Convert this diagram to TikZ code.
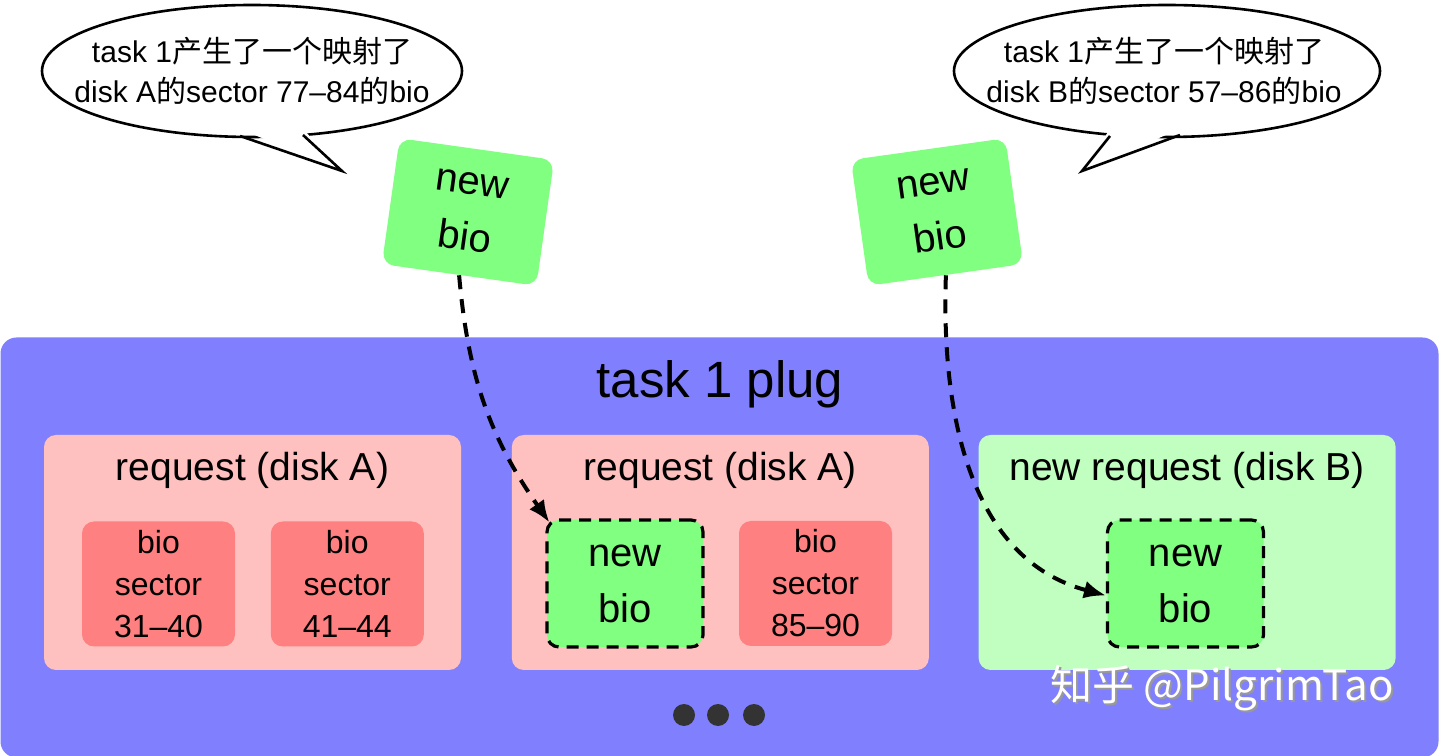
\documentclass[tikz,border=0pt]{standalone}
\usepackage{fontspec}
\setmainfont{Liberation Sans}
\newfontfamily\cjk{Noto Sans CJK SC}
\usepackage{tikz}
\usetikzlibrary{shapes,arrows.meta,positioning,calc}
\definecolor{plugblue}{HTML}{8080FF}
\definecolor{reqpink}{HTML}{FFC0C0}
\definecolor{reqgreen}{HTML}{C0FFC0}
\definecolor{biored}{HTML}{FF8080}
\definecolor{biogreen}{HTML}{80FF80}
\definecolor{dotgray}{HTML}{333333}
\tikzstyle{plug} = [rectangle, fill=plugblue, rounded corners=8pt,
    minimum width=719pt, minimum height=210pt, inner sep=0pt]
\tikzstyle{request} = [rectangle, fill=reqpink, rounded corners=6pt,
    minimum width=208.5pt, minimum height=117.5pt, inner sep=0pt]
\tikzstyle{reqtitle} = [font=\fontsize{19.5}{23}\selectfont]
\tikzstyle{bio} = [rectangle, fill=biored, rounded corners=6pt, minimum width=76.5pt,
    minimum height=62.5pt, inner sep=0pt, align=center, font=\fontsize{16}{21}\selectfont]
\tikzstyle{newbio} = [rectangle, fill=biogreen, rounded corners=6pt, minimum width=78pt,
    minimum height=63.5pt, inner sep=0pt, align=center, font=\fontsize{20}{28}\selectfont]
\tikzstyle{pending} = [newbio, draw, line width=1.6pt, dash pattern=on 6pt off 4pt]
\tikzstyle{bubble} = [draw, fill=white, line width=1.3pt]
\tikzstyle{saying} = [align=center, inner sep=0pt, font=\fontsize{15}{20}\selectfont]
\tikzstyle{connector} = [-{Latex[length=11pt,width=9pt]}, line width=2pt, dash pattern=on 7pt off 5pt]
\tikzstyle{dot} = [circle, fill=dotgray, minimum size=11pt, inner sep=0pt]
\tikzstyle{watermark} = [font=\cjk\fontsize{21}{25}\selectfont]

\begin{document}
\begin{tikzpicture}[x=0.5pt, y=0.5pt]
    \useasboundingbox [fill=white] (0,0) rectangle (1440,755);

    % speech bubbles
    \draw [bubble] (252,684) ellipse [x radius=210, y radius=66];
    \fill [white] (240,626) -- (342,584) -- (303,626) -- cycle;
    \draw [line width=1.3pt] (240,619) -- (342,584) -- (303,620);
    \node (sayA) [saying] at (252,684)
        {task 1{\cjk 产生了一个映射了}\\disk A{\cjk 的}sector 77–84{\cjk 的}bio};
    \draw [bubble] (1167,684) ellipse [x radius=213, y radius=66];
    \fill [white] (1110,626) -- (1082,584) -- (1180,626) -- cycle;
    \draw [line width=1.3pt] (1110,619) -- (1082,584) -- (1180,620);
    \node (sayB) [saying] at (1164,684)
        {task 1{\cjk 产生了一个映射了}\\disk B{\cjk 的}sector 57–86{\cjk 的}bio};

    % incoming bios
    \node (nb1) [newbio, rotate=-8] at (468,543) {new\\bio};
    \node (nb2) [newbio, rotate=8] at (937,543) {new\\bio};

    % plug with its requests
    \node (plug) [plug] at (719.5,207.5) {};
    \node (plugtitle) [font=\fontsize{25.5}{30}\selectfont] at (720,371) {task 1 plug};
    \node (req1) [request] at (252.5,202.5) {};
    \node (req2) [request, right=25pt of req1] {};
    \node (req3) [request, fill=reqgreen, right=24.5pt of req2] {};
    \node (t1) [reqtitle, below=18pt of req1.north, anchor=center] {request (disk A)};
    \node (t2) [reqtitle, below=18pt of req2.north, anchor=center] {request (disk A)};
    \node (t3) [reqtitle, below=18pt of req3.north, anchor=center] {new request (disk B)};

    \node (bio1) [bio] at (158.5,171) {bio\\sector\\31–40};
    \node (bio2) [bio, right=17.5pt of bio1] {bio\\sector\\41–44};
    \node (nbA) [pending] at (625,171.5) {new\\bio};
    \node (bio3) [bio, right=17pt of nbA] {bio\\sector\\85–90};
    \node (nbB) [pending] at (1185.5,171.5) {new\\bio};

    \node (more1) [dot] at (684,40) {};
    \node (more2) [dot] at (718,40) {};
    \node (more3) [dot] at (754,40) {};

    \node (wmshadow) [watermark, text=black!40] at (1224,65) {知乎 @PilgrimTao};
    \node (wm) [watermark, text=white] at (1222,67) {知乎 @PilgrimTao};

    \draw [connector] (nb1.south) to [out=-85, in=125] ([shift={(2pt,-2pt)}]nbA.north west);
    \draw [connector] (nb2.south) to [out=-92, in=165] ([yshift=-6pt]nbB.west);
\end{tikzpicture}
\end{document}
